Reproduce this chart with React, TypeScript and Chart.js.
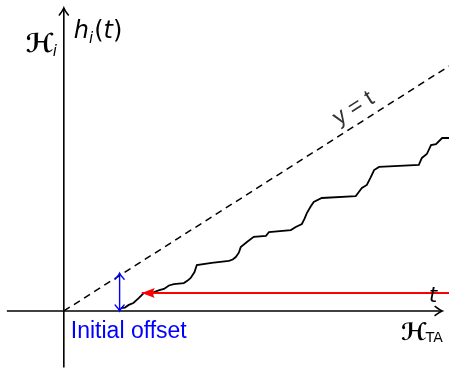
import { useEffect, useRef } from "react";
import { Chart, registerables } from "chart.js";
Chart.register(...registerables);

// staircase h_i(t) in abstract units (origin at axes crossing, y = t diagonal)
const stairX = [1.49, 1.6, 1.7, 1.82, 1.96, 2.09, 2.22, 2.36, 2.5, 2.62, 2.75, 2.88, 3.14, 3.24, 3.32, 3.42, 3.48, 3.87, 4.32, 4.42, 4.5, 4.58, 4.63, 4.8, 4.97, 5.29, 5.37, 5.94, 6.07, 6.23, 6.3, 6.36, 6.46, 6.54, 6.75, 7.64, 7.72, 7.8, 7.93, 8.03, 8.12, 8.25, 9.29, 9.37, 9.5, 9.61, 9.74, 9.9, 10.08];
const stairY = [0.12, 0.14, 0.25, 0.33, 0.53, 0.74, 0.76, 0.78, 0.86, 0.91, 1.05, 1.11, 1.15, 1.25, 1.36, 1.6, 1.89, 1.98, 2.06, 2.12, 2.22, 2.4, 2.63, 2.85, 3.05, 3.09, 3.25, 3.33, 3.46, 3.58, 3.8, 4.03, 4.3, 4.49, 4.65, 4.73, 4.9, 5.06, 5.19, 5.5, 5.8, 5.93, 6.01, 6.3, 6.46, 6.83, 6.87, 7.12, 7.12];
const diagT = [0, 10.08];
const xAxisRange = [-1.49, 9.9];
const yAxisRange = [-2.33, 12.47];
const redArrowX = [10.2, 2.04];
const redArrowY = 0.74;
const offsetX = 1.46;
const offsetY = [0, 1.55];

const X_MIN = -1.67, X_MAX = 10.08, Y_MIN = -2.47, Y_MAX = 12.8;

function openHead(ctx: CanvasRenderingContext2D, x: number, y: number, ang: number, len: number, half: number, color: string, lw: number) {
  ctx.save();
  ctx.translate(x, y);
  ctx.rotate(ang);
  ctx.strokeStyle = color;
  ctx.lineWidth = lw;
  ctx.lineCap = "round";
  ctx.beginPath();
  ctx.moveTo(-len, -half);
  ctx.quadraticCurveTo(-len * 0.35, -half * 0.2, 0, 0);
  ctx.quadraticCurveTo(-len * 0.35, half * 0.2, -len, half);
  ctx.stroke();
  ctx.restore();
}

function filledHead(ctx: CanvasRenderingContext2D, x: number, y: number, ang: number, len: number, half: number, color: string) {
  ctx.save();
  ctx.translate(x, y);
  ctx.rotate(ang);
  ctx.fillStyle = color;
  ctx.beginPath();
  ctx.moveTo(0, 0);
  ctx.lineTo(-len, -half);
  ctx.quadraticCurveTo(-len * 0.75, 0, -len, half);
  ctx.closePath();
  ctx.fill();
  ctx.restore();
}

const decorPlugin = {
  id: "decor",
  afterDatasetsDraw(chart: any) {
    const ctx: CanvasRenderingContext2D = chart.ctx;
    const xs = chart.scales.x, ys = chart.scales.y;
    const px = (v: number) => xs.getPixelForValue(v);
    const py = (v: number) => ys.getPixelForValue(v);
    // arrow heads
    openHead(ctx, px(xAxisRange[1]), py(0), 0, 7, 4.5, "#000", 1.6);
    openHead(ctx, px(0), py(yAxisRange[1]), -Math.PI / 2, 7, 4.5, "#000", 1.6);
    openHead(ctx, px(offsetX), py(offsetY[1]), -Math.PI / 2, 6, 4.5, "#0000ff", 1.4);
    openHead(ctx, px(offsetX), py(offsetY[0]), Math.PI / 2, 6, 4.5, "#0000ff", 1.4);
    filledHead(ctx, px(redArrowX[1]), py(redArrowY), Math.PI, 13, 5, "#ff0000");

    ctx.save();
    ctx.textBaseline = "alphabetic";
    ctx.textAlign = "left";
    // H_i
    const ox = px(0), oy = py(0);
    ctx.fillStyle = "#000";
    ctx.font = "bold 26px 'DejaVu Sans'";
    const hw = ctx.measureText("ℋ").width;
    ctx.fillText("ℋ", ox - 38, oy - 259);
    ctx.font = "italic 15px 'DejaVu Sans'";
    ctx.fillText("i", ox - 38 + hw - 1, oy - 255);
    // h_i(t)
    let cx = ox + 10;
    const by = oy - 273;
    ctx.font = "italic 24px 'DejaVu Sans'";
    ctx.fillText("h", cx, by);
    cx += ctx.measureText("h").width;
    ctx.font = "italic 15px 'DejaVu Sans'";
    ctx.fillText("i", cx, by + 5);
    cx += ctx.measureText("i").width + 1;
    ctx.font = "24px 'DejaVu Sans'";
    ctx.fillText("(", cx, by);
    cx += ctx.measureText("(").width;
    ctx.font = "italic 24px 'DejaVu Sans'";
    ctx.fillText("t", cx, by);
    cx += ctx.measureText("t").width;
    ctx.font = "24px 'DejaVu Sans'";
    ctx.fillText(")", cx, by);

    // y = t rotated along diagonal
    const lx = px(7.8), ly = py(7.8);
    const ang = Math.atan2(py(1) - py(0), px(1) - px(0));
    ctx.save();
    ctx.translate(lx, ly);
    ctx.rotate(ang);
    ctx.textAlign = "center";
    ctx.fillStyle = "#333";
    ctx.font = "23px 'Liberation Sans'";
    ctx.fillText("y = t", 0, -9);
    ctx.restore();

    // t at red arrow end
    ctx.fillStyle = "#000";
    ctx.font = "italic 21px 'DejaVu Sans'";
    ctx.fillText("t", px(xAxisRange[1]) - 13, py(redArrowY) + 9);

    // H_TA
    ctx.font = "bold 24px 'DejaVu Sans'";
    const hx = px(xAxisRange[1]) - 41;
    ctx.fillText("ℋ", hx, oy + 29);
    const hw2 = ctx.measureText("ℋ").width;
    ctx.font = "14px 'DejaVu Sans'";
    ctx.fillText("TA", hx + hw2 - 1, oy + 31);

    // Initial offset
    ctx.fillStyle = "#0000ff";
    ctx.font = "23px 'Liberation Sans'";
    ctx.fillText("Initial offset", ox + 7, oy + 27, 120);
    ctx.restore();
  },
};

export default function App() {
  const ref = useRef<HTMLCanvasElement | null>(null);
  useEffect(() => {
    if (!ref.current) return;
    const line = (data: any[], color: string, width: number, dash: number[] = []) => ({
      data,
      showLine: true,
      borderColor: color,
      borderWidth: width,
      borderDash: dash,
      pointRadius: 0,
      fill: false,
      tension: 0,
      clip: false as any,
    });
    const chart = new Chart(ref.current, {
      type: "scatter",
      data: {
        datasets: [
          line(xAxisRange.map((x) => ({ x, y: 0 })), "#000", 1.6),
          line(yAxisRange.map((y) => ({ x: 0, y })), "#000", 1.6),
          line(diagT.map((t) => ({ x: t, y: t })), "#000", 1.5, [7, 5]),
          line(redArrowX.map((x) => ({ x, y: redArrowY })), "#ff0000", 2.2),
          line(stairX.map((x, i) => ({ x, y: stairY[i] })), "#000", 1.8),
          line(offsetY.map((y) => ({ x: offsetX, y })), "#0000ff", 1.4),
        ],
      },
      options: {
        responsive: false,
        animation: false,
        layout: { padding: 0 },
        plugins: { legend: { display: false }, tooltip: { enabled: false } },
        scales: {
          x: { type: "linear", min: X_MIN, max: X_MAX, display: false },
          y: { type: "linear", min: Y_MIN, max: Y_MAX, display: false },
        },
      },
      plugins: [decorPlugin],
    });
    return () => chart.destroy();
  }, []);
  return (
    <div style={{ position: "fixed", left: 0, top: 0, width: 449, height: 371, background: "#fff" }}>
      <canvas ref={ref} width={449} height={371} />
    </div>
  );
}
